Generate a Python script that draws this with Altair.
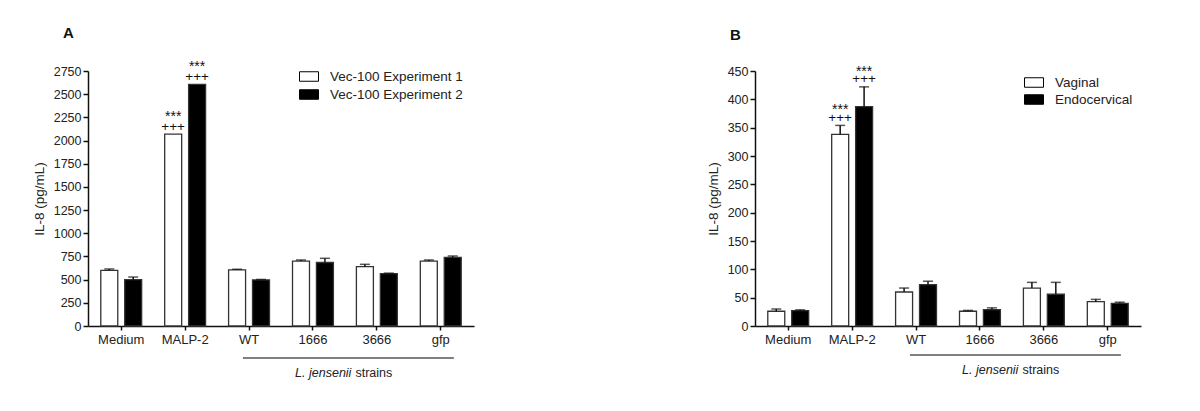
import altair as alt
import pandas as pd

FONT = "Liberation Sans"
INK = "#222222"

categories = ["Medium", "MALP-2", "WT", "1666", "3666", "gfp"]

# Panel A
a_series = ["Vec-100 Experiment 1", "Vec-100 Experiment 2"]
a_exp1 = [600, 2070, 605, 700, 640, 700]
a_exp1_err = [15, 0, 7, 12, 25, 12]
a_exp2 = [500, 2605, 497, 685, 565, 740]
a_exp2_err = [28, 0, 5, 45, 5, 15]
a_ticks = list(range(0, 2751, 250))

# Panel B
b_series = ["Vaginal", "Endocervical"]
b_vag = [26, 338, 60, 26, 67, 43]
b_vag_err = [4, 16, 7, 1.5, 10, 4]
b_endo = [27, 387, 73, 29, 56, 40]
b_endo_err = [1.5, 35, 6, 3, 21, 2]
b_ticks = list(range(0, 451, 50))

sig_category = "MALP-2"
group_label_start = "WT"
group_label_end = "gfp"
group_label_anchor = "3666"

W, H = 386, 255
PI, PO = 0.36, 0.2


def panel(letter, series, s1, e1, s2, e2, ymax, ticks, legend_x, legend_y,
          row_pad, line_off, text_off, star_dy, plus_dy, letter_y):
    rows = []
    for name, vals, errs in ((series[0], s1, e1), (series[1], s2, e2)):
        for c, v, e in zip(categories, vals, errs):
            rows.append({"cat": c, "series": name, "value": v, "err": e, "top": v + e})
    df = pd.DataFrame(rows)

    xscale = alt.Scale(type="band", domain=categories, paddingInner=PI, paddingOuter=PO)
    xaxis = alt.Axis(title=None, labelAngle=0, labelFontSize=13, labelFont=FONT,
                     labelColor=INK, domainColor="#111", domainWidth=1.5,
                     tickColor="#111", tickWidth=1.5, tickSize=4, labelPadding=3)
    x = alt.X("cat:N", scale=xscale, axis=xaxis)
    xoff = alt.XOffset("series:N", scale=alt.Scale(type="band", domain=series,
                                                     paddingInner=0.29, paddingOuter=0))
    yscale = alt.Scale(domain=[0, ymax], nice=False, zero=True)
    yaxis = alt.Axis(values=ticks, format="d", title="IL-8 (pg/mL)", grid=False,
                     labelFontSize=12.5, labelFont=FONT, labelColor=INK,
                     titleFont=FONT, titleFontSize=13.5, titleFontWeight="normal",
                     titleColor=INK, titlePadding=7, domainColor="#111",
                     domainWidth=1.5, tickColor="#111", tickWidth=1.5, tickSize=5,
                     labelPadding=2)
    y = alt.Y("value:Q", scale=yscale, axis=yaxis)
    ytop = alt.Y("top:Q", scale=yscale, axis=yaxis)

    base = alt.Chart(df)
    bars = base.mark_bar(stroke="#333333", strokeWidth=1.3).encode(
        x=x, xOffset=xoff, y=y,
        fill=alt.Fill("series:N", scale=alt.Scale(domain=series, range=["white", "black"]),
                      legend=alt.Legend(orient="none", legendX=legend_x, legendY=legend_y,
                                        title=None, symbolType="M-1,-0.5H1V0.5H-1Z",
                                        symbolSize=361, symbolStrokeColor="black",
                                        symbolStrokeWidth=1, labelFontSize=13.5,
                                        labelFont=FONT, labelColor=INK, labelOffset=11,
                                        rowPadding=row_pad, padding=0)),
    )
    errdf = base.transform_filter("datum.err > 0")
    err_rule = errdf.mark_rule(color="#111", strokeWidth=1.5).encode(
        x=x, xOffset=xoff, y=y, y2="top:Q")
    err_cap = errdf.mark_tick(color="#111", thickness=1.5, size=10).encode(
        x=x, xOffset=xoff, y=ytop)

    sig = base.transform_filter(alt.datum.cat == sig_category)
    plus = sig.mark_text(text="+++", fontSize=13.5, font=FONT, color="#111",
                         baseline="alphabetic", dy=plus_dy).encode(
        x=x, xOffset=xoff, y=ytop)
    star = sig.mark_text(text="***", fontSize=14, font=FONT, color="#111",
                         baseline="alphabetic", dy=star_dy).encode(
        x=x, xOffset=xoff, y=ytop)

    brdf = pd.DataFrame({"cat": [group_label_start], "cat_end": [group_label_end]})
    bracket = alt.Chart(brdf).mark_rule(color="#555555", strokeWidth=1.5).encode(
        x=alt.X("cat:N", scale=xscale, axis=xaxis, bandPosition=0.35),
        x2=alt.X2("cat_end:N", bandPosition=0.82),
        y=alt.value(H + line_off))

    lbdf = pd.DataFrame({"cat": [group_label_anchor]})
    lab1 = alt.Chart(lbdf).mark_text(text="L. jensenii", fontStyle="italic", fontSize=12.5,
                                     font=FONT, color=INK, align="right",
                                     baseline="middle", dx=-5).encode(
        x=alt.X("cat:N", scale=xscale, axis=xaxis, bandPosition=0),
        y=alt.value(H + text_off))
    lab2 = alt.Chart(lbdf).mark_text(text="strains", fontSize=12.5, font=FONT, color=INK,
                                     align="left", baseline="middle", dx=-1).encode(
        x=alt.X("cat:N", scale=xscale, axis=xaxis, bandPosition=0),
        y=alt.value(H + text_off))

    ttl = alt.Chart(pd.DataFrame({"t": [letter]})).mark_text(
        fontSize=15, fontWeight="bold", font=FONT, color="#111", align="left",
        baseline="alphabetic").encode(text="t:N", x=alt.value(-25), y=alt.value(letter_y))

    return alt.layer(bars, err_rule, err_cap, plus, star, bracket, lab1, lab2, ttl).properties(
        width=W, height=H)


pa = panel("A", a_series, a_exp1, a_exp1_err, a_exp2, a_exp2_err, 2750, a_ticks,
           211, -4.5, 1, 32, 47, -13, -3.5, -33)
pb = panel("B", b_series, b_vag, b_vag_err, b_endo, b_endo_err, 450, b_ticks,
           269, 1.5, 0, 29, 44, -11, -3.5, -31)

chart = alt.hconcat(pa, pb, spacing=232).resolve_scale(
    color="independent", fill="independent", x="independent", y="independent",
    xOffset="independent"
).resolve_legend(fill="independent").properties(
    padding={"left": 24, "top": 18, "right": 5, "bottom": 5}
).configure_view(stroke=None)

chart.save("out.html", embed_options={"renderer": "svg", "actions": False})
